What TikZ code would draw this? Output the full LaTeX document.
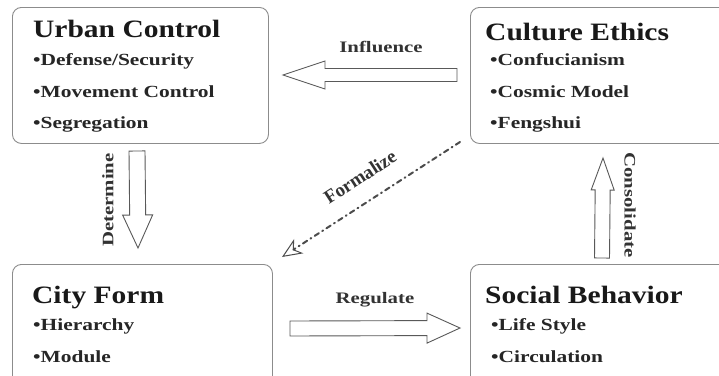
\documentclass[tikz,border=0pt]{standalone}
\usepackage{fontspec}
\setmainfont{Liberation Serif}
\usetikzlibrary{calc,arrows.meta}
\newcommand\wx[2]{\scalebox{#1}[1]{#2}}
\newcommand\blockarrow[5]{%
  \coordinate (bH) at ($(#2)!#4!(#1)$);
  \draw[blk] ($(#1)!#3!90:(#2)$) -- ($(bH)!#3!90:(#2)$) -- ($(bH)!#5!90:(#2)$) -- (#2)
    -- ($(bH)!#5!-90:(#2)$) -- ($(bH)!#3!-90:(#2)$) -- ($(#1)!#3!-90:(#2)$) -- cycle;}
\tikzset{
  box/.style={draw=black!45, line width=0.9pt, rounded corners=9pt, inner sep=0pt, anchor=north west},
  ttl/.style={anchor=base west, inner sep=0pt, font=\fontsize{25}{25}\selectfont\bfseries, text=black!90},
  itm/.style={anchor=base west, inner sep=0pt, font=\fontsize{17}{17}\selectfont\bfseries, text=black!85},
  lbl/.style={inner sep=0pt, font=\fontsize{16}{16}\selectfont\bfseries, text=black!80},
  blk/.style={draw=black!65, line width=0.9pt, fill=white, line join=miter},
  dsh/.style={draw=black!70, line width=2pt, line cap=round, dash pattern=on 5pt off 4pt on 1pt off 4pt,
    -{Stealth[open, length=20pt, width=17pt, inset=6pt, line width=1pt]}},
}
\begin{document}
\begin{tikzpicture}[x=1pt,y=-1pt]
\useasboundingbox (0,0) rectangle (719,375);
\clip (0,0) rectangle (719,375);
\fill[white] (0,0) rectangle (719,375);
% boxes
\node[box, minimum width=256pt, minimum height=136pt] (uc) at (12,7) {};
\node[box, minimum width=270pt, minimum height=136pt] (ce) at (470,7) {};
\node[box, minimum width=260pt, minimum height=125pt] (cf) at (12,264) {};
\node[box, minimum width=270pt, minimum height=125pt] (sb) at (470,264) {};
% Urban Control
\node[ttl] (uct) at (33,37) {\wx{1.18}{Urban Control}};
\node[itm] (uc1) at (33,65) {\wx{1.26}{•Defense/Security}};
\node[itm] (uc2) at (33,97) {\wx{1.26}{•Movement Control}};
\node[itm] (uc3) at (33,128) {\wx{1.26}{•Segregation}};
% Culture Ethics
\node[ttl] (cet) at (485,40) {\wx{1.18}{Culture Ethics}};
\node[itm] (ce1) at (490,65) {\wx{1.26}{•Confucianism}};
\node[itm] (ce2) at (490,97) {\wx{1.26}{•Cosmic Model}};
\node[itm] (ce3) at (490,128) {\wx{1.26}{•Fengshui}};
% City Form
\node[ttl] (cft) at (32,303) {\wx{1.18}{City Form}};
\node[itm] (cf1) at (33,330) {\wx{1.26}{•Hierarchy}};
\node[itm] (cf2) at (33,362) {\wx{1.26}{•Module}};
% Social Behavior
\node[ttl] (sbt) at (485,303) {\wx{1.18}{Social Behavior}};
\node[itm] (sb1) at (491,330) {\wx{1.26}{•Life Style}};
\node[itm] (sb2) at (491,362) {\wx{1.26}{•Circulation}};
% block arrows
\coordinate (inT) at (457,75); \coordinate (inH) at (283,75);
\blockarrow{inT}{inH}{6.5pt}{42pt}{14pt}
\coordinate (deT) at (137,151); \coordinate (deH) at (138,248);
\blockarrow{deT}{deH}{8pt}{33pt}{15pt}
\coordinate (coT) at (602,258); \coordinate (coH) at (603,158);
\blockarrow{coT}{coH}{7.5pt}{32pt}{11.5pt}
\coordinate (reT) at (290,328.5); \coordinate (reH) at (460,328);
\blockarrow{reT}{reH}{7.5pt}{33pt}{15pt}
% dashed
\coordinate (foT) at (460,142); \coordinate (foH) at (282,257);
\draw[dsh] (foT) -- (foH);
% labels
\node[lbl, anchor=base] (lin) at (381,52) {\wx{1.3}{Influence}};
\node[lbl, anchor=base] (lre) at (375,303) {\wx{1.3}{Regulate}};
\node[lbl, rotate=90] (lde) at (108,200) {\wx{1.3}{Determine}};
\node[lbl, rotate=-90] (lco) at (630,205) {\wx{1.3}{Consolidate}};
\node[lbl, rotate=33, font=\fontsize{19}{19}\selectfont\bfseries] (lfo) at (360,177) {Formalize};
\end{tikzpicture}
\end{document}
